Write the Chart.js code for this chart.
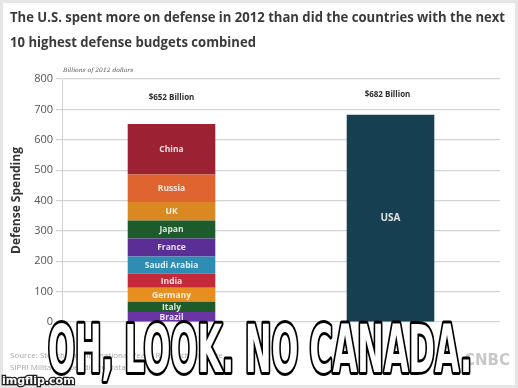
<!DOCTYPE html>
<html>
<head>
<meta charset="utf-8">
<script src="https://cdn.jsdelivr.net/npm/chart.js@4"></script>
<style>
  html, body { margin: 0; padding: 0; background: #ffffff; }
  #wrap { width: 518px; height: 388px; position: relative; }
  canvas { display: block; }
</style>
</head>
<body>
<div id="wrap"><canvas id="c" width="518" height="388"></canvas></div>
<script>
// ---- data ----
const categories = ['Next 10 countries', 'United States'];
const countries = ['Brazil', 'Italy', 'Germany', 'India', 'Saudi Arabia', 'France', 'Japan', 'UK', 'Russia', 'China'];
const countryValues = [33, 34, 46, 46, 57, 59, 59, 61, 91, 166];
const countryColors = ['#6a34a4', '#1f5a2b', '#e68f20', '#c52a3b', '#2f8db3', '#5a2e95', '#1d5a2c', '#da8922', '#df6430', '#9c2233'];
const usaLabel = 'USA';
const usaValue = 682;
const usaColor = '#173f52';
const totalLabels = ['$652 Billion', '$682 Billion'];
const yTicks = [0, 100, 200, 300, 400, 500, 600, 700, 800];
const titleLines = ['The U.S. spent more on defense in 2012 than did the countries with the next', '10 highest defense budgets combined'];
const unitNote = 'Billions of 2012 dollars';
const yAxisTitle = 'Defense Spending';
const sourceLines = ['Source: Stockholm International Peace Research Institute', 'SIPRI Military Expenditure Database, 2013'];
const memeText = 'OH, LOOK. NO CANADA.';

const datasets = countries.map((name, i) => ({
  label: name,
  data: [countryValues[i], null],
  backgroundColor: countryColors[i],
  borderWidth: 0
}));
datasets.push({ label: usaLabel, data: [null, usaValue], backgroundColor: usaColor, borderWidth: 0 });

const decor = {
  id: 'decor',
  beforeDraw(chart) {
    const ctx = chart.ctx;
    ctx.save();
    ctx.fillStyle = '#ffffff';
    ctx.fillRect(0, 0, chart.width, chart.height);
    ctx.fillStyle = '#3b3b3b';
    ctx.font = 'bold 14px "Open Sans", sans-serif';
    ctx.textBaseline = 'alphabetic';
    ctx.textAlign = 'left';
    const w1 = ctx.measureText(titleLines[0]).width;
    const s = 495 / w1;
    ctx.save();
    ctx.translate(10, 0);
    ctx.scale(s, 1);
    ctx.fillText(titleLines[0], 0, 22);
    ctx.fillText(titleLines[1], 0, 47);
    ctx.restore();
    ctx.fillStyle = '#555';
    ctx.font = 'italic 6px "DejaVu Serif", serif';
    ctx.fillText(unitNote, 63, 72);
    ctx.restore();
  },
  afterDatasetsDraw(chart) {
    const ctx = chart.ctx;
    ctx.save();
    ctx.textAlign = 'center';
    ctx.textBaseline = 'middle';
    chart.data.datasets.forEach((ds, di) => {
      const meta = chart.getDatasetMeta(di);
      meta.data.forEach((bar, i) => {
        if (ds.data[i] == null) return;
        const cy = (bar.y + bar.base) / 2;
        const isUsa = ds.label === usaLabel;
        ctx.font = (isUsa ? 'bold 10px' : 'bold 8.5px') + ' "Open Sans", sans-serif';
        ctx.fillStyle = 'rgba(255,255,255,0.85)';
        ctx.fillText(ds.label, bar.x, cy + 0.5);
      });
    });
    const meta0 = chart.getDatasetMeta(0);
    const metaU = chart.getDatasetMeta(chart.data.datasets.length - 1);
    ctx.fillStyle = '#2e2e2e';
    ctx.font = 'bold 8px "Open Sans", sans-serif';
    ctx.fillText(totalLabels[0], meta0.data[0].x, 98);
    ctx.fillText(totalLabels[1], metaU.data[1].x - 3, 95);
    ctx.restore();
  },
  afterDraw(chart) {
    const ctx = chart.ctx;
    ctx.save();
    ctx.fillStyle = '#a9a9a9';
    ctx.font = '8px "Open Sans", sans-serif';
    ctx.textAlign = 'left';
    ctx.textBaseline = 'alphabetic';
    ctx.fillText(sourceLines[0], 10, 358);
    ctx.fillText(sourceLines[1], 10, 370);
    ctx.fillStyle = '#c8c8c8';
    ctx.font = 'bold 15px "DejaVu Sans", sans-serif';
    ctx.textAlign = 'right';
    ctx.fillText('CNBC', 510, 365);
    ctx.strokeStyle = '#e6e6e6';
    ctx.lineWidth = 3;
    ctx.strokeRect(1.5, 1.5, chart.width - 3, chart.height - 3);
    ctx.textAlign = 'left';
    ctx.font = 'bold 66px "Liberation Sans Narrow", "DejaVu Sans Condensed", sans-serif';
    const mw = ctx.measureText(memeText).width;
    ctx.save();
    ctx.translate(48, 372);
    ctx.scale(424 / mw, 1);
    ctx.lineJoin = 'round';
    ctx.strokeStyle = '#000';
    ctx.lineWidth = 6;
    ctx.strokeText(memeText, 0, 0);
    ctx.fillStyle = '#ffffff';
    ctx.fillText(memeText, 0, 0);
    ctx.restore();
    ctx.font = 'bold 11px "DejaVu Sans", sans-serif';
    ctx.lineWidth = 2.5;
    ctx.strokeStyle = '#222';
    ctx.strokeText('imgflip.com', 2, 384);
    ctx.fillStyle = '#fff';
    ctx.fillText('imgflip.com', 2, 384);
    ctx.restore();
  }
};

new Chart(document.getElementById('c'), {
  type: 'bar',
  data: { labels: categories, datasets },
  options: {
    responsive: false,
    animation: false,
    events: [],
    layout: { padding: { top: 79, bottom: 66, left: 0, right: 18 } },
    plugins: { legend: { display: false }, tooltip: { enabled: false } },
    datasets: { bar: { barPercentage: 0.4, categoryPercentage: 1.0 } },
    scales: {
      x: { stacked: true, display: false },
      y: {
        stacked: true,
        min: 0, max: 800,
        afterBuildTicks(scale) { scale.ticks = yTicks.map(v => ({ value: v })); },
        afterFit(scale) { scale.width = 62; },
        ticks: { color: '#555', font: { family: '"Open Sans", sans-serif', size: 11 }, padding: 3 },
        grid: { color: '#d4d4d4', lineWidth: 1.2, tickLength: 6 },
        border: { color: '#cfcfcf', width: 1 },
        title: {
          display: true, text: yAxisTitle, color: '#333',
          font: { family: '"Open Sans", sans-serif', size: 12, weight: 'bold' },
          padding: { top: 9, bottom: 0 }
        }
      }
    }
  },
  plugins: [decor]
});
</script>
</body>
</html>
